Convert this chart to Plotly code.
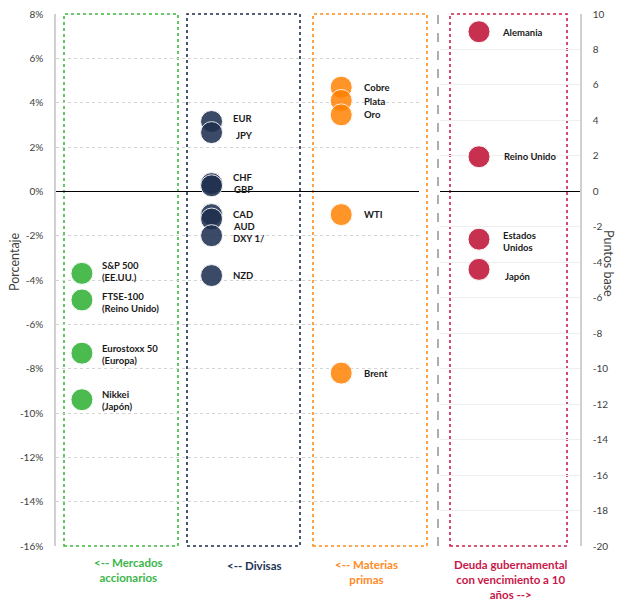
import plotly.graph_objects as go

# ---------------- data ----------------
equity_names = ["S&P 500<br>(EE.UU.)", "FTSE-100<br>(Reino Unido)", "Eurostoxx 50<br>(Europa)", "Nikkei<br>(Japón)"]
equity_values = [-3.7, -4.9, -7.3, -9.4]

currency_names = ["EUR", "JPY", "CHF", "GBP", "CAD", "AUD", "DXY 1/", "NZD"]
currency_values = [3.15, 2.65, 0.35, 0.25, -1.05, -1.25, -2.0, -3.8]

commodity_names = ["Cobre", "Plata", "Oro", "WTI", "Brent"]
commodity_values = [4.7, 4.1, 3.45, -1.05, -8.2]

bond_names = ["Alemania", "Reino Unido", "Estados<br>Unidos", "Japón"]
bond_values = [9.0, 1.95, -2.7, -4.4]

group_labels = ["<-- Mercados<br>accionarios", "<-- Divisas", "<-- Materias<br>primas",
                "Deuda gubernamental<br>con vencimiento a 10<br>años -->"]

left_ticks = list(range(-16, 9, 2))
right_ticks = list(range(-20, 11, 2))

# ---------------- styling ----------------
W, H = 621, 601
ML, MR, MT, MB = 56, 41, 14, 55
PW = W - ML - MR
PH = H - MT - MB


def px(xp):
    return (xp - ML) / PW


def py(yp):
    return (MT + PH - yp) / PH


FONT = "Lato"
C_GREEN = "#4cbb4f"
C_NAVY = "#1f3050"
C_ORANGE = "#ff8000"
C_RED = "#c8304f"
TXT = "#1a1a1a"
AX = "#404040"

# label pixel offsets (xshift, yshift) for point labels
equity_off = [(18, 2), (18, -3), (18, -1), (18, -1)]
currency_off = [(19, 3.5), (22, -2.5), (19, 6.5), (20, -4), (19, 0.5), (19, -7), (19, -2.5), (19, 0)]
commodity_off = [(21, 0), (21, -1.5), (21, 0), (21, 0), (21, 0)]
bond_off = [(21, -1), (23, 0), (22, -2), (24, -7)]

fig = go.Figure()

mk = dict(size=22, line=dict(color="white", width=1))

fig.add_trace(go.Scatter(x=[0] * len(equity_values), y=equity_values, mode="markers",
                         marker=dict(color=C_GREEN, **mk), xaxis="x", yaxis="y", hoverinfo="skip"))
fig.add_trace(go.Scatter(x=[1] * len(currency_values), y=currency_values, mode="markers",
                         marker=dict(color=C_NAVY, opacity=0.87, **mk), xaxis="x", yaxis="y", hoverinfo="skip"))
fig.add_trace(go.Scatter(x=[2] * len(commodity_values), y=commodity_values, mode="markers",
                         marker=dict(color=C_ORANGE, opacity=0.84, **mk), xaxis="x", yaxis="y", hoverinfo="skip"))
fig.add_trace(go.Scatter(x=[0] * len(bond_values), y=bond_values, mode="markers",
                         marker=dict(color=C_RED, **mk), xaxis="x2", yaxis="y2", hoverinfo="skip"))

annotations = []


def add_labels(names, values, xcat, offs, xref, yref):
    for n, v, (dx, dy) in zip(names, values, offs):
        annotations.append(dict(x=xcat, y=v, xref=xref, yref=yref, text="<b>%s</b>" % n,
                                showarrow=False, xanchor="left", yanchor="middle", align="left",
                                xshift=dx, yshift=dy, font=dict(family=FONT, size=9.5, color=TXT)))


add_labels(equity_names, equity_values, 0, equity_off, "x", "y")
add_labels(currency_names, currency_values, 1, currency_off, "x", "y")
add_labels(commodity_names, commodity_values, 2, commodity_off, "x", "y")
add_labels(bond_names, bond_values, 0, bond_off, "x2", "y2")

# group labels below the plot
glab_pos = [(128, 570, "#3cb64a"), (254, 565, "#233456"),
            (366, 572, "#ff8a1f"), (511, 579, "#c8184a")]
for t, (xp, yp, c) in zip(group_labels, glab_pos):
    annotations.append(dict(x=px(xp), y=py(yp), xref="paper", yref="paper", text="<b>%s</b>" % t,
                            showarrow=False, xanchor="center", yanchor="middle", align="center",
                            font=dict(family=FONT, size=11.5, color=c)))

# axis titles
annotations.append(dict(x=px(14), y=py(262), xref="paper", yref="paper", text="Porcentaje",
                        textangle=-90, showarrow=False, xanchor="center", yanchor="middle",
                        font=dict(family=FONT, size=12.5, color=AX)))
annotations.append(dict(x=px(609), y=py(263), xref="paper", yref="paper", text="Puntos base",
                        textangle=90, showarrow=False, xanchor="center", yanchor="middle",
                        font=dict(family=FONT, size=12.5, color=AX)))

shapes = []
for (x0, x1, c) in [(64, 178, "#3cb93c"), (187, 300, "#1f2d4d"), (313, 427, "#ff8c1a"), (450, 567, "#c8204a")]:
    shapes.append(dict(type="rect", xref="paper", yref="paper", x0=px(x0), x1=px(x1), y0=0, y1=1,
                       line=dict(color=c, width=1.6, dash="dot"), fillcolor="rgba(0,0,0,0)", layer="below"))
shapes.append(dict(type="line", xref="paper", yref="paper", x0=px(438), x1=px(438), y0=0, y1=1,
                   line=dict(color="#9a9a9a", width=1.6, dash="dash"), layer="below"))

fig.update_layout(
    width=W, height=H, margin=dict(l=ML, r=MR, t=MT, b=MB, autoexpand=False),
    paper_bgcolor="white", plot_bgcolor="white", showlegend=False,
    font=dict(family=FONT, size=10, color=AX),
    xaxis=dict(domain=[0, px(419)], range=[-0.2, 2.6], visible=False, fixedrange=True),
    xaxis2=dict(domain=[px(440), 1], range=[-39 / 140, 101 / 140], visible=False, anchor="y2"),
    yaxis=dict(range=[-16, 8], tickvals=left_ticks, ticktext=["%d%%" % t for t in left_ticks],
               showgrid=True, gridcolor="#d4d4d4", griddash="dot", gridwidth=1,
               zeroline=True, zerolinecolor="black", zerolinewidth=1.2,
               showline=True, linecolor="#d0d0d0", linewidth=1.5, automargin=False,
               ticks="outside", ticklen=9, tickcolor="rgba(0,0,0,0)",
               tickfont=dict(family=FONT, size=10, color=AX), anchor="x"),
    yaxis2=dict(range=[-20, 10], tickvals=right_ticks, ticktext=[str(t) for t in right_ticks],
                side="right", anchor="x2", automargin=False,
                showgrid=True, gridcolor="#efefef", gridwidth=1,
                zeroline=True, zerolinecolor="black", zerolinewidth=1.2,
                showline=True, linecolor="#d0d0d0", linewidth=1.5,
                ticks="outside", ticklen=9, tickcolor="rgba(0,0,0,0)",
                tickfont=dict(family=FONT, size=10, color=AX)),
    annotations=annotations, shapes=shapes,
)

fig.write_html("out.html")
